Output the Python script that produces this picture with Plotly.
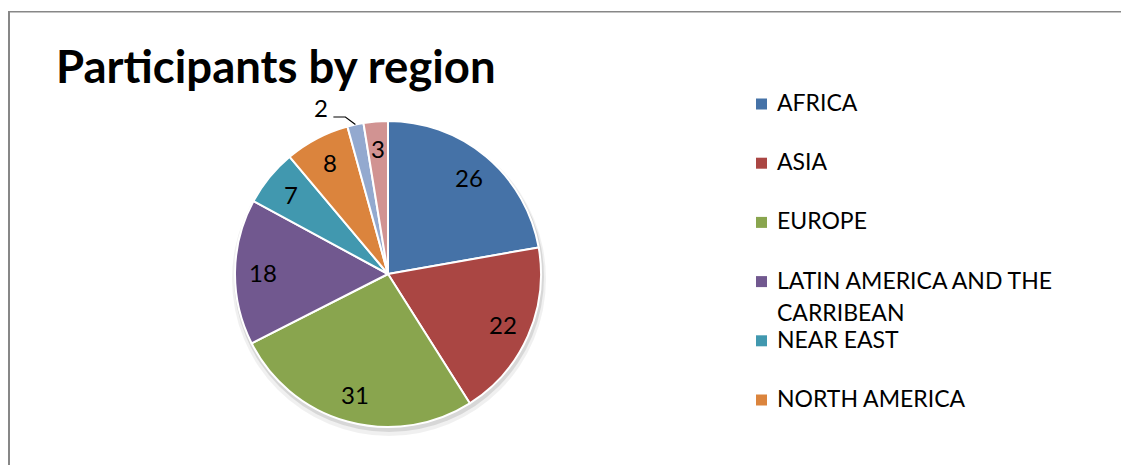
import math
import plotly.graph_objects as go

# ---- data ----
title_text = "Participants by region"
labels = ["AFRICA", "ASIA", "EUROPE", "LATIN AMERICA AND THE CARRIBEAN",
          "NEAR EAST", "NORTH AMERICA", "SOUTH WEST PACIFIC", "OTHER"]
values = [26, 22, 31, 18, 7, 8, 2, 3]
colors = ["#4572A7", "#AA4643", "#89A54E", "#71588F",
          "#4198AF", "#DB843D", "#93A9CF", "#D19392"]
legend_shown = 6  # the legend in the original is cut after six entries

# ---- layout helpers (screen pixel -> paper); page body has an 8px margin ----
VW, VH = 1129, 473
OX, OY = 8, 8
W, H = VW - 2 * OX, VH - 2 * OY   # keep the figure inside the window (no scrollbars)
def px(x):
    return (x - OX) / W
def py(y):
    return 1 - (y - OY) / H

CX, CY, R = 388, 274, 153
FONT = "Lato"

fig = go.Figure()
fig.add_trace(go.Pie(
    labels=labels, values=values, sort=False, direction="clockwise", rotation=0,
    marker=dict(colors=colors, line=dict(color="white", width=2)),
    textinfo="none", showlegend=False, hoverinfo="label+value",
    domain=dict(x=[px(CX - R), px(CX + R)], y=[py(CY + R), py(CY - R)]),
))

shapes = []
annotations = []

# frame (left and top edges of the chart area)
shapes.append(dict(type="line", xref="paper", yref="paper",
                   x0=px(9), x1=px(9), y0=py(11), y1=py(VH + 20),
                   line=dict(color="#878787", width=2)))
shapes.append(dict(type="line", xref="paper", yref="paper",
                   x0=px(8), x1=px(VW + 20), y0=py(11.75), y1=py(11.75),
                   line=dict(color="#878787", width=1.5)))

# soft shadow under the pie
for dr, dy, op in [(4, 5, 0.06), (2, 3, 0.10)]:
    shapes.append(dict(type="circle", xref="paper", yref="paper", layer="below",
                       x0=px(CX - R - dr + 1), x1=px(CX + R + dr + 1),
                       y0=py(CY + R + dr + dy), y1=py(CY - R - dr + dy),
                       fillcolor=f"rgba(0,0,0,{op})", line=dict(width=0)))

# title
annotations.append(dict(text=f"<b>{title_text}</b>", xref="paper", yref="paper",
                        x=px(54), y=py(65), xanchor="left", yanchor="middle",
                        showarrow=False, font=dict(family=FONT, size=45.5, color="black")))

# data labels
total = sum(values)
cum = 0
for v in values:
    mid = (cum + v / 2) / total * 2 * math.pi
    cum += v
    s, c = math.sin(mid), math.cos(mid)
    if v / total >= 0.02:
        rr = 0.82 * R
        annotations.append(dict(text=str(v), xref="paper", yref="paper",
                                x=px(CX + rr * s), y=py(CY - rr * c),
                                xanchor="center", yanchor="middle", showarrow=False,
                                font=dict(family=FONT, size=24, color="black")))
    else:
        ex, ey = CX + R * s, CY - R * c
        elx, ely = ex - 10, ey - 7.5
        lx, ly = elx - 12, ely
        shapes.append(dict(type="path", xref="paper", yref="paper",
                           path=f"M {px(ex)},{py(ey)} L {px(elx)},{py(ely)} L {px(lx)},{py(ly)}",
                           line=dict(color="black", width=1.2)))
        annotations.append(dict(text=str(v), xref="paper", yref="paper",
                                x=px(lx - 3), y=py(ly - 10),
                                xanchor="right", yanchor="middle", showarrow=False,
                                font=dict(family=FONT, size=24, color="black")))

# legend (drawn manually, first six entries as in the original)
def wrap(text, width=22):
    words, lines, cur = text.split(), [], ""
    for w in words:
        if cur and len(cur) + 1 + len(w) > width:
            lines.append(cur)
            cur = w
        else:
            cur = (cur + " " + w).strip()
    lines.append(cur)
    return lines

for i in range(legend_shown):
    ymid = 102 + 59.2 * i
    shapes.append(dict(type="rect", xref="paper", yref="paper",
                       x0=px(756), x1=px(767), y0=py(ymid + 7.5), y1=py(ymid - 3.5),
                       fillcolor=colors[i], line=dict(width=0)))
    for j, line in enumerate(wrap(labels[i])):
        annotations.append(dict(text=line, xref="paper", yref="paper",
                                x=px(775), y=py(ymid + 32 * j),
                                xanchor="left", yanchor="middle", showarrow=False,
                                font=dict(family=FONT, size=23, color="black")))

fig.update_layout(
    width=W, height=H, margin=dict(l=0, r=0, t=0, b=0),
    paper_bgcolor="white", plot_bgcolor="white",
    shapes=shapes, annotations=annotations,
)
fig.write_html("out.html")
